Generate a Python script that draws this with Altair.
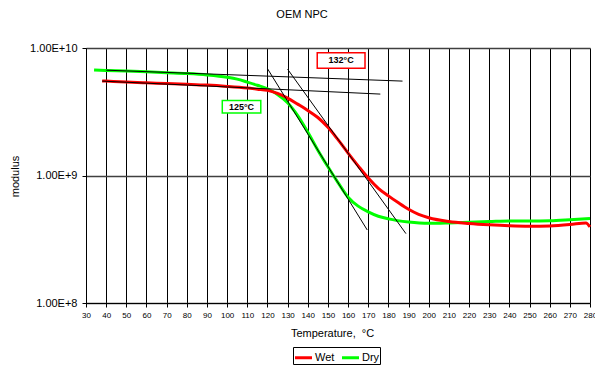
import altair as alt
import pandas as pd

# Temperature sweep (°C) and storage modulus for the two conditions
dry_temp = [34, 40, 50, 60, 70, 80, 90, 100, 105, 110, 115, 120, 125, 130, 135, 140,
            145, 150, 155, 160, 165, 170, 175, 180, 190, 200, 210, 220, 230, 240, 250,
            260, 270, 280]
dry_mod = [6.73e9, 6.67e9, 6.6e9, 6.5e9, 6.4e9, 6.3e9, 6.15e9, 5.9e9, 5.7e9, 5.4e9,
           5.1e9, 4.79e9, 4.32e9, 3.72e9, 2.95e9, 2.19e9, 1.58e9, 1.17e9, 8.8e8, 6.76e8,
           5.75e8, 5.19e8, 4.79e8, 4.57e8, 4.32e8, 4.22e8, 4.25e8, 4.3e8, 4.35e8, 4.4e8,
           4.4e8, 4.42e8, 4.5e8, 4.6e8]

wet_temp = [38, 40, 50, 60, 70, 80, 90, 100, 110, 115, 120, 125, 130, 135, 140, 145,
            150, 155, 160, 165, 170, 175, 180, 185, 190, 195, 200, 210, 220, 230, 240,
            250, 260, 270, 278, 280]
wet_mod = [5.52e9, 5.5e9, 5.4e9, 5.33e9, 5.27e9, 5.2e9, 5.12e9, 5.0e9, 4.85e9, 4.75e9,
           4.65e9, 4.4e9, 4.05e9, 3.63e9, 3.24e9, 2.85e9, 2.39e9, 1.91e9, 1.5e9, 1.19e9,
           9.55e8, 7.94e8, 6.92e8, 6.1e8, 5.43e8, 4.95e8, 4.66e8, 4.35e8, 4.2e8, 4.1e8,
           4.03e8, 4.0e8, 4.02e8, 4.12e8, 4.25e8, 3.95e8]

# Construction lines used to read the transition temperatures
tangent_id = ["a", "a", "b", "b", "c", "c", "d", "d"]
tangent_temp = [40, 187, 38, 176, 120.1, 169.5, 130, 188.7]
tangent_mod = [6.7e9, 5.5e9, 5.5e9, 4.35e9, 6.85e9, 3.74e8, 6.82e9, 3.5e8]

# Transition temperature call-outs
note_text = ["132°C", "125°C"]
note_color = ["#FF0000", "#00FF00"]
note_t0 = [144.7, 97.6]
note_t1 = [168.4, 116.7]
note_m0 = [6.93e9, 3.09e9]
note_m1 = [9.19e9, 3.87e9]

series = ["Wet", "Dry"]
series_colors = ["#FF0000", "#00FF00"]

curves = pd.concat([
    pd.DataFrame({"T": dry_temp, "E": dry_mod, "s": "Dry", "o": 0}),
    pd.DataFrame({"T": wet_temp, "E": wet_mod, "s": "Wet", "o": 1}),
])
tangents = pd.DataFrame({"id": tangent_id, "T": tangent_temp, "E": tangent_mod})
notes = pd.DataFrame({
    "text": note_text, "c": note_color,
    "T": note_t0, "T2": note_t1, "E": note_m0, "E2": note_m1,
})
notes["Tm"] = (notes["T"] + notes["T2"]) / 2
notes["Em"] = (notes["E"] * notes["E2"]) ** 0.5

FONT = "Liberation Sans"

x_scale = alt.Scale(domain=[30, 280], nice=False, zero=False)
y_scale = alt.Scale(type="log", domain=[1e8, 1e10], nice=False)

x_axis = alt.Axis(
    values=list(range(30, 281, 10)), title="Temperature,\u00a0 °C",
    labelFontSize=8, titleFontSize=11, titleFontWeight="normal",
    labelFont=FONT, titleFont=FONT, labelColor="black", titleColor="black",
    domainColor="black", tickColor="black", tickSize=4, labelPadding=4,
    grid=True, gridColor="black", gridWidth=1, gridOpacity=1,
    titleX=246, titleY=24, titleAlign="center", titleBaseline="top",
    labelFlush=False, labelOverlap=False, labelSeparation=0,
)
y_axis = alt.Axis(
    values=[1e8, 1e9, 1e10], title="modulus",
    labelExpr="replace(format(datum.value, '.2e'), 'e', 'E')",
    labelFontSize=11, titleFontSize=11, titleFontWeight="normal",
    labelFont=FONT, titleFont=FONT, labelColor="black", titleColor="black",
    domainColor="black", tickColor="black", tickSize=4, labelPadding=5,
    grid=True, gridColor="#404040", gridWidth=1.5, gridOpacity=1,
    titleX=-71, titleY=128, titleAngle=-90, titleAlign="center",
    titleBaseline="middle", labelFlush=False,
)

legend = alt.Legend(
    title=None, orient="none", legendX=207, legendY=299, direction="horizontal",
    strokeColor="black", fillColor="white", padding=0,
    symbolType="stroke", symbolStrokeWidth=3, symbolSize=290,
    labelFont=FONT, labelFontSize=11, labelColor="black",
    columnPadding=0, labelOffset=1,
)

X = alt.X("T:Q", scale=x_scale, axis=x_axis)
Y = alt.Y("E:Q", scale=y_scale, axis=y_axis)

lines = alt.Chart(curves).mark_line(strokeWidth=3, interpolate="monotone").encode(
    x=X, y=Y,
    color=alt.Color("s:N", scale=alt.Scale(domain=series, range=series_colors),
                    legend=legend),
    order="o:Q",
)

tangent_lines = alt.Chart(tangents).mark_line(color="black", strokeWidth=1).encode(
    x=X, y=Y, detail="id:N",
)

boxes = alt.Chart(notes).mark_rect(fill="white", strokeWidth=1.5).encode(
    x=X, x2="T2", y=Y, y2="E2",
    stroke=alt.Stroke("c:N", scale=None),
)
labels = alt.Chart(notes).mark_text(
    font=FONT, fontSize=9, fontWeight="bold", color="black",
    align="center", baseline="middle",
).encode(
    x=alt.X("Tm:Q", scale=x_scale, axis=x_axis),
    y=alt.Y("Em:Q", scale=y_scale, axis=y_axis),
    text="text:N",
)

chart = alt.layer(lines, tangent_lines, boxes, labels).properties(
    width=504, height=255,
    autosize=alt.AutoSizeParams(type="none"),
    padding={"left": 86, "top": 48, "right": 5, "bottom": 65},
    title=alt.TitleParams("OEM NPC", font=FONT, fontSize=11, fontWeight="normal",
                          color="black", anchor="middle", dx=-36, offset=22),
).configure_view(
    fill="#C0C0C0", stroke="#808080", strokeWidth=1,
).configure_axisX(
    labelOverlap=False, labelSeparation=0,
).configure(background="white")

chart.save("out.html", embed_options={"renderer": "svg", "actions": False})
